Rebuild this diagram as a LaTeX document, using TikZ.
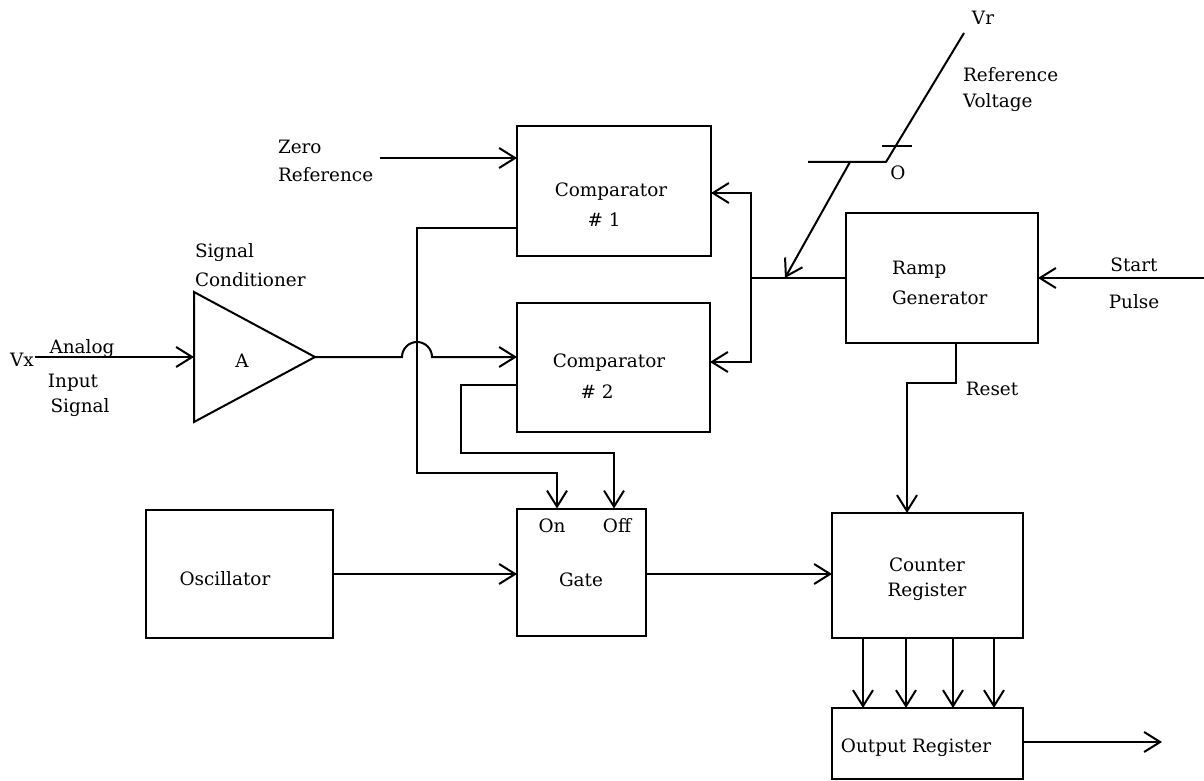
\documentclass[tikz,border=0pt]{standalone}
\usepackage{fontspec}
\setmainfont{DejaVu Serif}
\usetikzlibrary{arrows.meta}
\begin{document}
\begin{tikzpicture}[x=0.75pt,y=-0.75pt,
  line width=1.5pt, line cap=butt, line join=miter,
  box/.style={draw, rectangle, inner sep=0pt, outer sep=0pt},
  lbl/.style={font=\fontsize{13.8}{16}\selectfont, inner sep=0pt, outer sep=0pt},
  arr/.style={-{Straight Barb[length=12pt,width=15pt]}},
]
\useasboundingbox (0,0) rectangle (1204,781);

% ---------- boxes ----------
\node[box, minimum width=145.5pt, minimum height=97.5pt]  (comp1)   at (614,191)   {};
\node[box, minimum width=144.75pt, minimum height=96.75pt] (comp2)  at (613.5,367.5) {};
\node[box, minimum width=144pt, minimum height=97.5pt]    (ramp)    at (942,278)   {};
\node[box, minimum width=140.25pt, minimum height=96pt]   (osc)     at (239.5,574) {};
\node[box, minimum width=96.75pt, minimum height=95.25pt] (gate)    at (581.5,572) {};
\node[box, minimum width=143.25pt, minimum height=93.75pt] (counter) at (927.5,575.5) {};
\node[box, minimum width=143.25pt, minimum height=53.25pt] (output)  at (927.5,743.5) {};

% ---------- amplifier ----------
\coordinate (ampT) at (194,292);
\coordinate (ampB) at (194,422);
\coordinate (ampL) at (194,357);
\coordinate (ampout) at (315,357);
\draw (ampT) -- (ampout) -- (ampB) -- cycle;

% ---------- texts ----------
\node[lbl] (tvx) at (22,360) {Vx};
\node[lbl] (tanalog) at (82,349) {Analog};
\node[lbl] (tinput) at (73,383) {Input};
\node[lbl] (tsignal) at (80,408) {Signal};
\node[lbl, anchor=west] (tsig2) at (195,253) {Signal};
\node[lbl, anchor=west] (tcond) at (195,280) {Conditioner};
\node[lbl] (ta) at (242,361) {A};
\node[lbl, anchor=west] (tzero) at (278,147) {Zero};
\node[lbl, anchor=west] (tzref) at (278,175) {Reference};
\node[lbl] (tc1) at (611,192) {Comparator};
\node[lbl] (tc1n) at (604,220) {\# 1};
\node[lbl] (tc2) at (609,363) {Comparator};
\node[lbl] (tc2n) at (597,392) {\# 2};
\node[lbl] (tvr) at (983,18) {Vr};
\node[lbl, anchor=west] (tref) at (963,75) {Reference};
\node[lbl, anchor=west] (tvolt) at (963,103) {Voltage};
\node[lbl] (to) at (898,173) {O};
\node[lbl, anchor=west] (tramp) at (892,270) {Ramp};
\node[lbl, anchor=west] (tgen) at (892,298) {Generator};
\node[lbl] (tstart) at (1134,265) {Start};
\node[lbl] (tpulse) at (1134,302) {Pulse};
\node[lbl] (treset) at (992,389) {Reset};
\node[lbl] (tosc) at (225,579) {Oscillator};
\node[lbl] (ton) at (552,526) {On};
\node[lbl] (toff) at (617,526) {Off};
\node[lbl] (tgate) at (581,580) {Gate};
\node[lbl] (tcount) at (927,565) {Counter};
\node[lbl] (treg) at (927,592) {Register};
\node[lbl] (tout) at (916,748) {Output Register};

% ---------- connectors ----------
\coordinate (vx) at (35,357);
\draw[arr] (vx) -- (ampL);

\coordinate (hopL) at (402,357);
\draw[arr] (ampout) -- (hopL) arc[start angle=180, end angle=360, radius=15] -- (ampout -| comp2.west);

\coordinate (zr) at (380,158);
\draw[arr] (zr) -- (zr -| comp1.west);

\coordinate (c1a) at (417,228);
\coordinate (c1b) at (417,473);
\coordinate (c1c) at (557,473);
\draw[arr] (comp1.west |- c1a) -- (c1a) -- (c1b) -- (c1c) -- (c1c |- gate.north);

\coordinate (c2a) at (461,385);
\coordinate (c2b) at (461,453);
\coordinate (c2c) at (614,453);
\draw[arr] (comp2.west |- c2a) -- (c2a) -- (c2b) -- (c2c) -- (c2c |- gate.north);

\coordinate (bus) at (751,278);
\coordinate (b1) at (751,193);
\coordinate (b2) at (751,362);
\draw[arr] (ramp.west) -- (bus) -- (b1) -- (b1 -| comp1.east);
\draw[arr] (bus) -- (b2) -- (b2 -| comp2.east);

% reference voltage ramp symbol
\coordinate (rv0) at (808,162);
\coordinate (rv1) at (886,162);
\coordinate (rv2) at (964,33);
\coordinate (tk0) at (882,146);
\coordinate (tk1) at (912,146);
\draw (rv0) -- (rv1) -- (rv2);
\draw (tk0) -- (tk1);
\coordinate (rs) at (850,162);
\coordinate (rsend) at (785,278);
\draw[arr] (rs) -- (rsend);

\coordinate (st) at (1204,278);
\draw[arr] (st) -- (st -| ramp.east);

\coordinate (r1) at (956,383);
\coordinate (r2) at (907,383);
\draw[arr] (ramp.south -| r1) -- (r1) -- (r2) -- (r2 |- counter.north);

\coordinate (osy) at (0,574);
\draw[arr] (osc.east |- osy) -- (gate.west |- osy);
\draw[arr] (gate.east |- osy) -- (counter.west |- osy);

\coordinate (o1) at (863,0);
\coordinate (o2) at (906,0);
\coordinate (o3) at (953,0);
\coordinate (o4) at (994,0);
\foreach \k in {o1,o2,o3,o4}
  \draw[arr] (counter.south -| \k) -- (output.north -| \k);

\coordinate (outend) at (1162,742);
\draw[arr] (output.east |- outend) -- (outend);
\end{tikzpicture}
\end{document}
